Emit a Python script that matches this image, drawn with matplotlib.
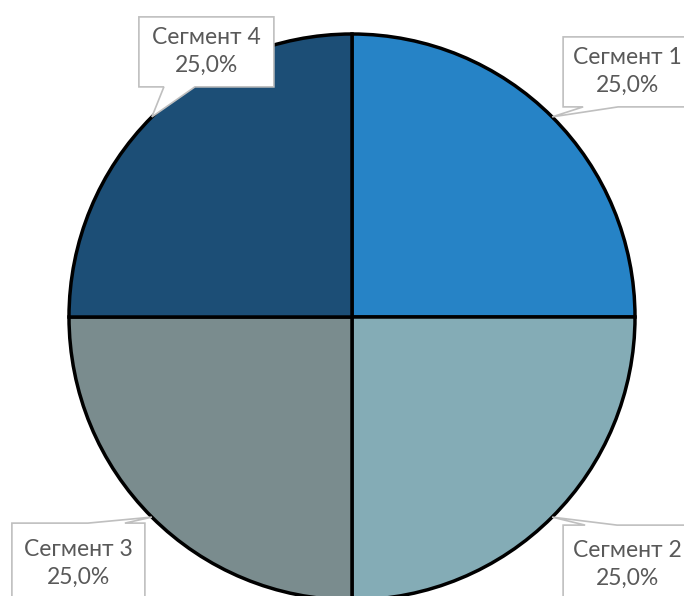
import matplotlib.pyplot as plt
import numpy as np
from matplotlib.patches import Polygon

plt.rcParams['font.family'] = ['Lato', 'DejaVu Sans']

labels = ['Сегмент 1', 'Сегмент 2', 'Сегмент 3', 'Сегмент 4']
values = [25, 25, 25, 25]
colors = ['#2683C6', '#84ACB6', '#7A8C8E', '#1C4E76']

# box offset from the pointer tip (pixels): left, right, top, bottom edge,
# and where the pointer joins the box edge
box_offsets = [
    (11, 140, -80, -10, 'bottom', (31, 66)),
    (11, 140, 8, 86, 'top', (33, 65)),
    (-140, -7, 6, 86, 'top', (-64, -27)),
    (-13, 122, -100, -30, 'bottom', (12, 43)),
]

W, H = 684, 596
cx, cy, R = 352, 317, 283

fig = plt.figure(figsize=(W / 100, H / 100), dpi=100)
ax = fig.add_axes([0, 0, 1, 1])

wedges, _ = ax.pie(values, colors=colors, startangle=90, counterclock=False,
                   radius=1.0, wedgeprops=dict(edgecolor='black', linewidth=2.5))

# pie() sets its own limits, so put ours back after it
ax.set_xlim(-cx / R, (W - cx) / R)
ax.set_ylim((cy - H) / R, cy / R)
ax.set_aspect('equal')
ax.axis('off')

total = float(sum(values))
for w, lab, val, off in zip(wedges, labels, values, box_offsets):
    ang = np.deg2rad((w.theta1 + w.theta2) / 2)
    tx, ty = np.cos(ang), np.sin(ang)
    left, right, top, bottom, side, (j1, j2) = off
    s = 1.0 / R
    x0, x1 = tx + left * s, tx + right * s
    y_top, y_bot = ty - top * s, ty - bottom * s
    a, b = tx + j1 * s, tx + j2 * s
    if side == 'bottom':
        pts = [(x0, y_top), (x1, y_top), (x1, y_bot), (b, y_bot), (tx, ty), (a, y_bot), (x0, y_bot)]
    else:
        pts = [(x0, y_top), (a, y_top), (tx, ty), (b, y_top), (x1, y_top), (x1, y_bot), (x0, y_bot)]
    ax.add_patch(Polygon(pts, closed=True, facecolor='white', edgecolor='#BFBFBF',
                         linewidth=1.2, zorder=5, clip_on=False))
    ax.text((x0 + x1) / 2, (y_top + y_bot) / 2,
            '%s\n%s%%' % (lab, ('%.1f' % (val / total * 100)).replace('.', ',')),
            ha='center', va='center', fontsize=16.5, color='#595959',
            linespacing=1.4, zorder=6)

fig.savefig('out.png', dpi=100)
